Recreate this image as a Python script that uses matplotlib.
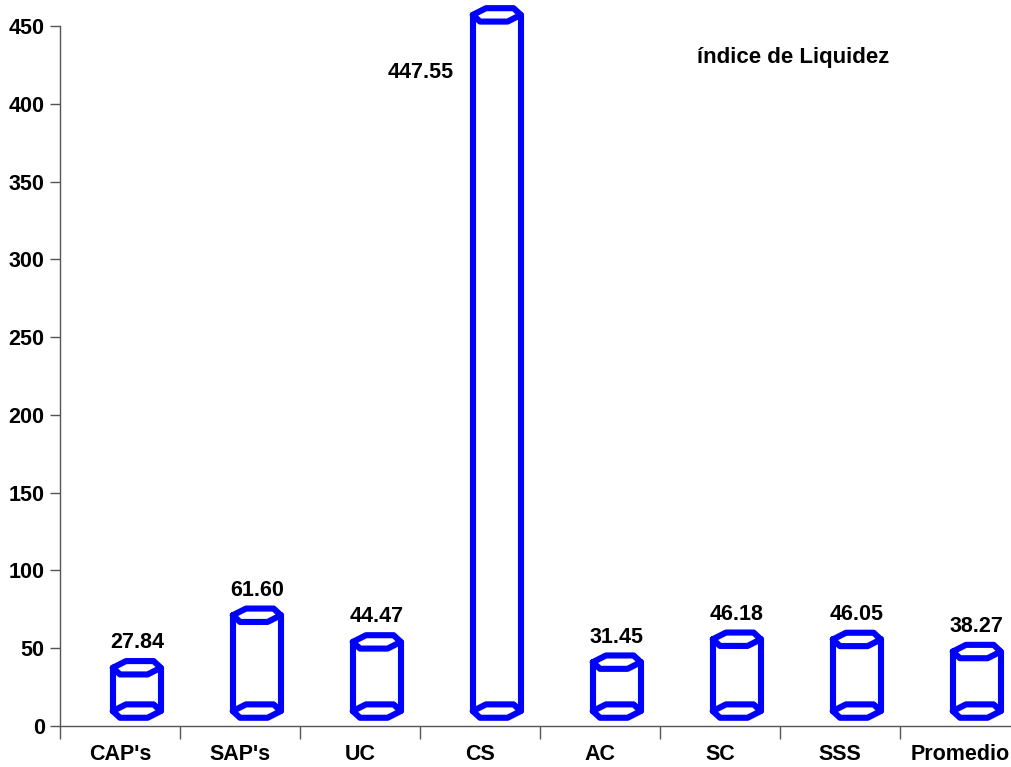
import matplotlib
matplotlib.use("Agg")
import matplotlib.pyplot as plt
from matplotlib.ticker import FixedLocator, NullFormatter

plt.rcParams['font.family'] = ['Liberation Sans', 'DejaVu Sans']
plt.rcParams['font.weight'] = 'bold'

categories = ["CAP's", "SAP's", "UC", "CS", "AC", "SC", "SSS", "Promedio"]
values = [27.84, 61.60, 44.47, 447.55, 31.45, 46.18, 46.05, 38.27]
y_ticks = [0, 50, 100, 150, 200, 250, 300, 350, 400, 450]
title = "índice de Liquidez"

W, H = 1011, 767
fig = plt.figure(figsize=(W / 100, H / 100), dpi=100)
# axes box in pixels: left 60, bottom line at 726, top (450) at 26, 120 px per category
ax = fig.add_axes([60 / W, (H - 726) / H, 960 / W, 700 / H])
ax.set_xlim(-0.5, len(categories) - 0.5)
ax.set_ylim(0, 450)

blue = "#0000FF"
lw = 4.4
# pseudo-3D depth shift and cylinder geometry (data units)
dx, dy = 0.14, 9.6
w, h = 0.2, 4.3


def ring(cx, cy):
    xs = [cx - w, cx - 0.45 * w, cx + 0.7 * w, cx + w, cx + 0.45 * w, cx - 0.7 * w, cx - w]
    ys = [cy, cy + h, cy + h, cy, cy - h, cy - h, cy]
    return xs, ys


for i, v in enumerate(values):
    cx = i + dx
    base = dy
    top = v + dy
    style = dict(color=blue, lw=lw, solid_joinstyle="round", solid_capstyle="round", clip_on=False, zorder=3)
    ax.plot(*ring(cx, base), **style)
    ax.plot(*ring(cx, top), **style)
    ax.plot([cx - w, cx - w], [base, top], **style)
    ax.plot([cx + w, cx + w], [base, top], **style)
    if v > 400:
        ax.annotate(f"{v:.2f}", xy=(cx, v), xytext=(-31, -31), textcoords="offset points",
                    ha="right", va="center", fontsize=15.5, fontweight="bold", annotation_clip=False)
    else:
        ax.annotate(f"{v:.2f}", xy=(cx, top), xytext=(0, 18), textcoords="offset points",
                    ha="center", va="center", fontsize=15.5, fontweight="bold")

for s in ("top", "right"):
    ax.spines[s].set_visible(False)
for s in ("left", "bottom"):
    ax.spines[s].set_color("#555555")
    ax.spines[s].set_linewidth(1.0)

ax.set_yticks(y_ticks)
ax.set_yticklabels([str(t) for t in y_ticks])
ax.tick_params(axis="y", length=7, width=1, color="#555555", pad=4, labelsize=15.5)

# category boundaries carry the tick marks, centres carry the labels
ax.xaxis.set_major_locator(FixedLocator([i - 0.5 for i in range(len(categories) + 1)]))
ax.xaxis.set_major_formatter(NullFormatter())
ax.set_xticks(range(len(categories)), minor=True)
ax.set_xticklabels(categories, minor=True)
ax.tick_params(axis="x", which="major", length=9, width=1, color="#555555", direction="out")
ax.tick_params(axis="x", which="minor", length=0, pad=13, labelsize=15.5)

fig.text(793 / W, 1 - 57 / H, title, ha="center", va="center", fontsize=16, fontweight="bold")

fig.savefig("out.png", dpi=100)
